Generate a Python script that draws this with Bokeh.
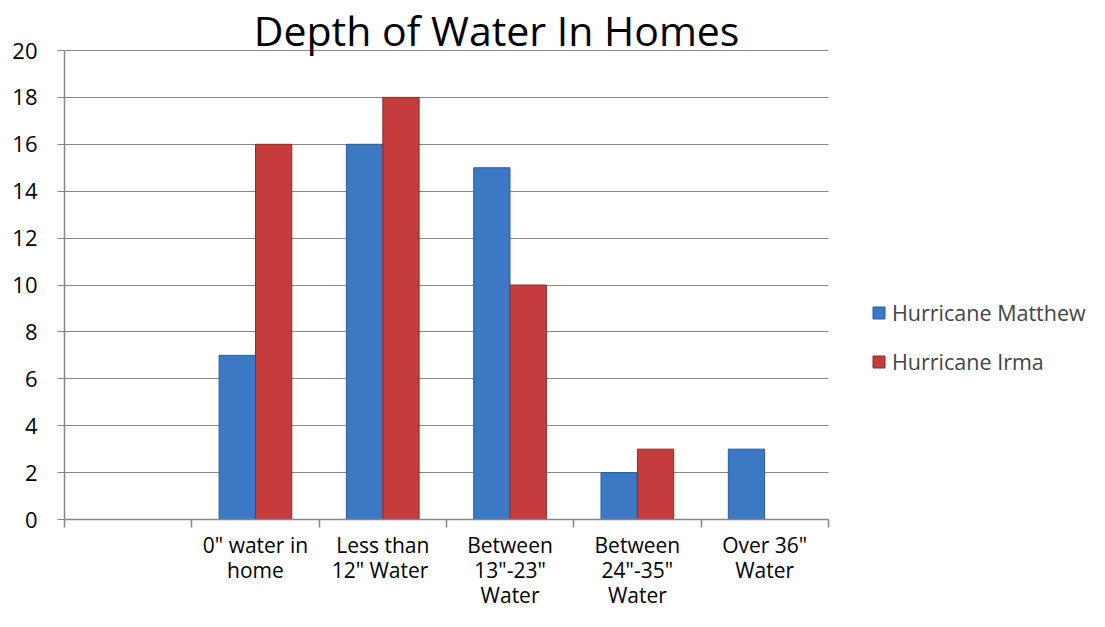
from bokeh.plotting import figure
from bokeh.models import FixedTicker, Legend, LegendItem, Label, ColumnDataSource, Range1d
from bokeh.embed import file_html
from bokeh.resources import INLINE

# ---- data ----
categories = ["", "0\" water in\nhome", "Less than\n12\"  Water", "Between\n13\"-23\"\nWater",
              "Between\n24\"-35\"\nWater", "Over 36\"\nWater"]
matthew = [0, 7, 16, 15, 2, 3]
irma = [0, 16, 18, 10, 3, 0]
y_ticks = [0, 2, 4, 6, 8, 10, 12, 14, 16, 18, 20]
series_names = ["Hurricane Matthew", "Hurricane Irma"]
title_text = "Depth of Water In Homes"

FONT = "Open Sans"
GRAY = "#878787"
n = len(categories)
centers = [i + 0.5 for i in range(n)]
bounds = [i for i in range(n + 1)]
bar_w = 0.285
off = 0.143

W, H = 1089, 611
LEFT, BOTTOM = 64, 92
CAT_PX = 127.3
Y_PX = 23.45
x_max = (W - LEFT) / CAT_PX
y_max = (H - BOTTOM) / Y_PX

def series_source(vals, shift):
    xs = [c + shift for c, v in zip(centers, vals) if v]
    ts = [v for v in vals if v]
    return ColumnDataSource(dict(x=xs, top=ts))

p = figure(width=W, height=H, x_range=Range1d(0, x_max), y_range=Range1d(0, y_max),
           output_backend="svg", toolbar_location=None,
           min_border_left=LEFT, min_border_right=0, min_border_top=0, min_border_bottom=BOTTOM)
p.title.visible = False
p.outline_line_color = None
p.background_fill_color = "white"
p.border_fill_color = "white"

# grid
p.xgrid.visible = False
p.ygrid.grid_line_color = GRAY
p.ygrid.grid_line_width = 1
p.ygrid.ticker = FixedTicker(ticks=y_ticks)
p.ygrid.bounds = (0, 20)
p.ygrid.cross_bounds = (0, n)

r1 = p.vbar(x="x", top="top", bottom=0, width=bar_w, source=series_source(matthew, -off),
            fill_color="#3D78C5", line_color="#2C5B98", line_width=1)
r2 = p.vbar(x="x", top="top", bottom=0, width=bar_w, source=series_source(irma, off),
            fill_color="#C43C3C", line_color="#8E2B2B", line_width=1)

# y axis
ya = p.yaxis[0]
ya.ticker = FixedTicker(ticks=y_ticks)
ya.bounds = (0, 20)
ya.axis_line_color = GRAY
ya.axis_line_width = 1.5
ya.major_tick_line_color = GRAY
ya.major_tick_out = 7
ya.major_tick_in = 0
ya.minor_tick_out = 0
ya.minor_tick_in = 0
ya.major_label_standoff = 20
ya.major_label_text_font = FONT
ya.major_label_text_font_size = "22px"
ya.major_label_text_color = "black"

# x axis
xa = p.xaxis[0]
xa.ticker = FixedTicker(ticks=centers, minor_ticks=bounds)
xa.bounds = (0, n)
xa.axis_line_color = GRAY
xa.axis_line_width = 1.5
xa.major_tick_out = 0
xa.major_tick_in = 0
xa.minor_tick_out = 8
xa.minor_tick_in = 0
xa.minor_tick_line_color = GRAY
xa.minor_tick_line_width = 1.5
xa.major_label_overrides = {c: lab for c, lab in zip(centers, categories)}
xa.major_label_standoff = 3
xa.major_label_text_font = FONT
xa.major_label_text_font_size = "21px"
xa.major_label_text_line_height = 0.9
xa.major_label_text_color = "black"

# title
p.add_layout(Label(x=3.394, y=20, y_offset=21, text=title_text, text_align="center",
                   text_baseline="alphabetic", text_font=FONT, text_font_size="41px",
                   text_color="black"))

legend = Legend(items=[LegendItem(label=series_names[0], renderers=[r1]),
                       LegendItem(label=series_names[1], renderers=[r2])],
                location=(807, 143), glyph_width=15, glyph_height=15, label_height=30,
                spacing=19, padding=10, label_standoff=6,
                label_text_font=FONT, label_text_font_size="21.5px",
                border_line_color=None, background_fill_alpha=0)
p.add_layout(legend, "center")

open("out.html", "w").write(file_html(p, INLINE))
